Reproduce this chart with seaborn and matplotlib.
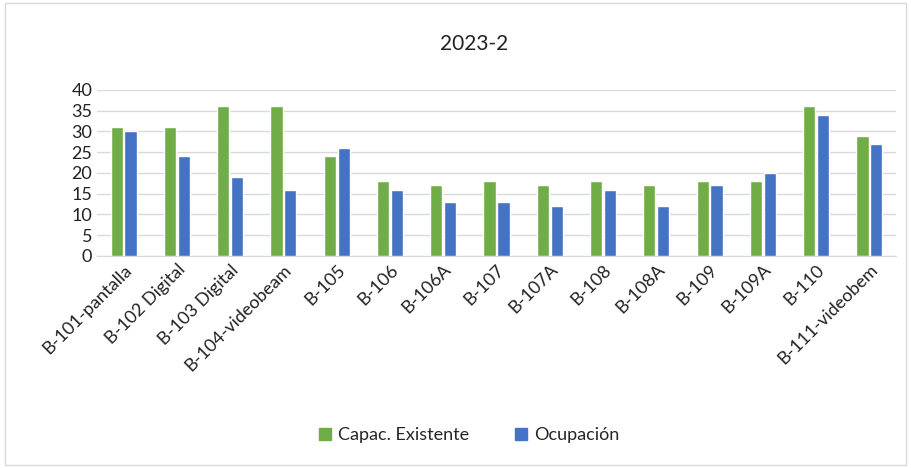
import matplotlib
matplotlib.use('Agg')
import matplotlib.pyplot as plt
import pandas as pd
import seaborn as sb

rooms = ["B-101-pantalla", "B-102 Digital", "B-103 Digital", "B-104-videobeam", "B-105",
         "B-106", "B-106A", "B-107", "B-107A", "B-108", "B-108A", "B-109", "B-109A",
         "B-110", "B-111-videobem"]
capacidad = [31, 31, 36, 36, 24, 18, 17, 18, 17, 18, 17, 18, 18, 36, 29]
ocupacion = [30, 24, 19, 16, 26, 16, 13, 13, 12, 16, 12, 17, 20, 34, 27]
series = ["Capac. Existente", "Ocupación"]
colors = ["#70AD47", "#4472C4"]

sb.set_style("white")
plt.rcParams['font.family'] = ['Lato', 'DejaVu Sans']

df = pd.DataFrame({
    "sala": rooms * 2,
    "valor": capacidad + ocupacion,
    "serie": [series[0]] * len(rooms) + [series[1]] * len(rooms),
})

fig = plt.figure(figsize=(9.11, 4.68), dpi=100)
ax = fig.add_axes([0.1065, 0.453, 0.877, 0.355])
sb.barplot(data=df, x="sala", y="valor", hue="serie", palette=colors, saturation=1,
           width=0.52, gap=0.12, ax=ax, zorder=3)

ax.set_ylim(0, 40)
ax.set_yticks(range(0, 41, 5))
ax.yaxis.grid(True, color="#D9D9D9", lw=1, zorder=0)
ax.set_xlabel("")
ax.set_ylabel("")
for s in ["top", "right", "left"]:
    ax.spines[s].set_visible(False)
ax.spines["bottom"].set_color("#D9D9D9")
ax.tick_params(axis="both", length=0, labelsize=13, colors="#222222")
ax.tick_params(axis="x", pad=4)
plt.setp(ax.get_xticklabels(), rotation=45, ha="right", rotation_mode="anchor")

fig.text(0.52, 0.905, "2023-2", ha="center", va="center", fontsize=15, color="#222222")

ax.legend_.remove()
handles = [plt.Rectangle((0, 0), 1, 1, color=c) for c in colors]
fig.legend(handles, series, loc="center", bbox_to_anchor=(0.515, 0.07), ncol=2,
           frameon=False, fontsize=13, handlelength=0.7, handleheight=0.7,
           columnspacing=2.5, handletextpad=0.4)

fig.patches.append(plt.Rectangle((0.006, 0.006), 0.988, 0.988, transform=fig.transFigure,
                                 fill=False, edgecolor="#D9D9D9", lw=1))

fig.savefig("out.png", dpi=100)
